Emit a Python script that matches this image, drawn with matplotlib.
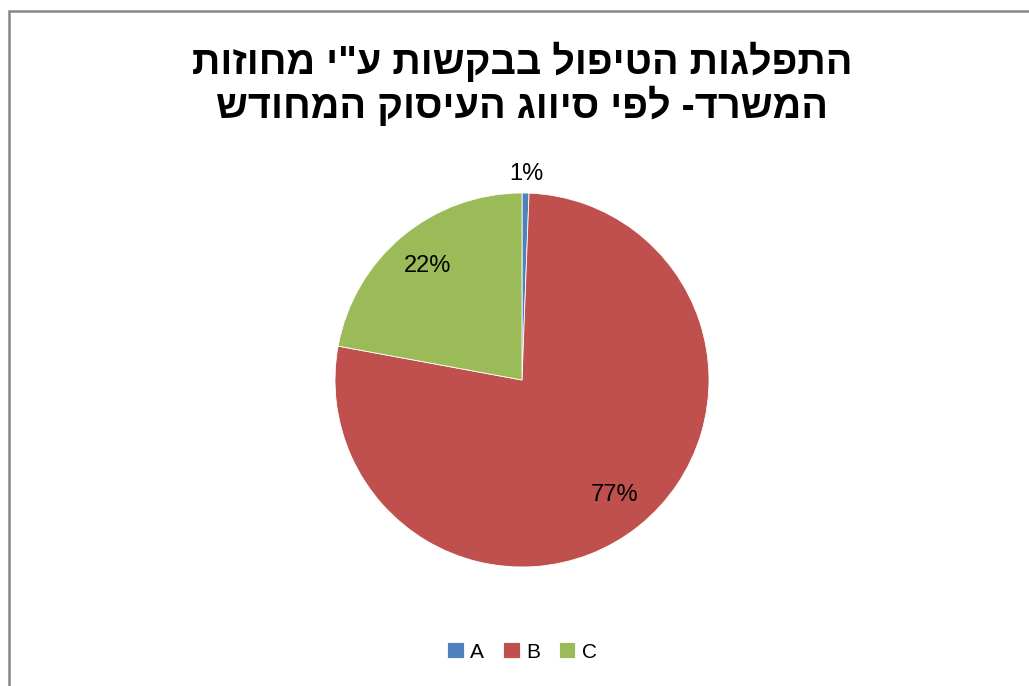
import numpy as np
import matplotlib.pyplot as plt
from matplotlib.patches import Rectangle

# data
labels = ['A', 'B', 'C']
values = [0.6, 77.3, 22.1]
colors = ['#4F81BD', '#C0504D', '#9BBB59']

# Hebrew title (logical order), reversed for display since matplotlib has no bidi
title_lines = ['התפלגות הטיפול בבקשות ע"י מחוזות',
               'המשרד- לפי סיווג העיסוק המחודש']

W, H = 1029, 686
fig = plt.figure(figsize=(W / 100, H / 100), dpi=100)

# chart frame (runs off the right/bottom edge in the reference)
fig.patches.append(Rectangle((8.5 / W, -0.05), 1.2, 1 - 11 / H + 0.05,
                             transform=fig.transFigure, fill=False,
                             edgecolor='#868686', linewidth=1.8))

# pie area: centre ~(522,380) px, radius ~187 px
cx, cy, r = 522, 380, 187
ax = fig.add_axes([(cx - r) / W, (H - cy - r) / H, 2 * r / W, 2 * r / H])

wedges, texts, pcts = ax.pie(values, colors=colors, startangle=90,
                             counterclock=False, autopct='%1.0f%%',
                             pctdistance=0.79,
                             wedgeprops=dict(edgecolor='white', linewidth=0.6),
                             textprops=dict(fontsize=17, family='Liberation Sans'))
ax.set_xlim(-1, 1)
ax.set_ylim(-1, 1)

# tiny slice gets its label outside
w = wedges[0]
th = np.deg2rad((w.theta1 + w.theta2) / 2)
pcts[0].set_position((1.1 * np.cos(th), 1.1 * np.sin(th)))

fig.text(cx / W, 1 - 84 / H, '\n'.join(l[::-1] for l in title_lines),
         ha='center', va='center', fontsize=28.5, fontweight='bold',
         family='Liberation Sans', linespacing=1.1)

fig.legend(wedges, labels, loc='center', bbox_to_anchor=(cx / W, 1 - 652 / H),
           ncol=3, frameon=False, handlelength=0.8,
           handleheight=0.8, handletextpad=0.3, columnspacing=0.9,
           prop=dict(family='Liberation Sans', size=15))

fig.savefig('out.png', dpi=100)
